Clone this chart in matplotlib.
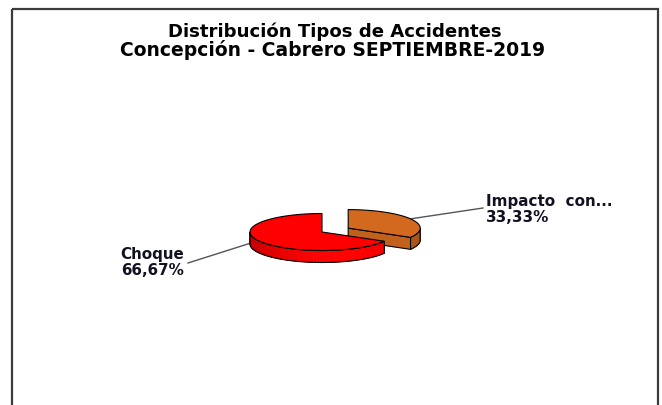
import numpy as np
import matplotlib
matplotlib.use("Agg")
import matplotlib.pyplot as plt
from matplotlib.patches import Polygon, Rectangle
from matplotlib.colors import to_rgb

# ---- data ----
title_lines = ["Distribución Tipos de Accidentes", "Concepción - Cabrero SEPTIEMBRE-2019"]
categories = ["Impacto  con...", "Choque"]
values = [33.33, 66.67]
top_colors = ["#D2691E", "#FF0000"]
side_colors = ["#B85D1C", "#FF0000"]
explode = [0.42, 0.0]

# ---- figure in pixel coordinates ----
W, H = 662, 405
fig = plt.figure(figsize=(W / 100, H / 100), dpi=100)
ax = fig.add_axes([0, 0, 1, 1])
ax.set_xlim(0, W)
ax.set_ylim(H, 0)
ax.axis("off")

# frame
ax.add_patch(Rectangle((12, 9), 646, 420, fill=False, ec="#3c3c3c", lw=1.6, zorder=1))

# titles
ax.text(335, 37, title_lines[0], ha="center", va="baseline", fontsize=13.1,
        fontweight="bold", family="DejaVu Sans", color="black")
ax.text(333, 56, title_lines[1], ha="center", va="baseline", fontsize=13.5,
        fontweight="bold", family="DejaVu Sans", color="black")

# pie geometry (layout)
cx, cy, rx, ry, depth = 322, 232, 72, 18.5, 12
start_angle = 90.0


def pt(c, a, dz=0.0):
    r = np.radians(a)
    return (c[0] + rx * np.cos(r), c[1] - ry * np.sin(r) + dz)


def shade(col, a):
    base = np.array(to_rgb(col))
    f = 0.78 + 0.22 * max(0.0, np.cos(np.radians(a + 70)))
    return tuple(np.clip(base * f, 0, 1))


total = float(sum(values))
slices = []
cum = 0.0
for i, v in enumerate(values):
    a0 = start_angle - 360.0 * cum / total
    cum += v
    a1 = start_angle - 360.0 * cum / total
    mid = (a0 + a1) / 2
    c = (cx + explode[i] * rx * np.cos(np.radians(mid)),
         cy - explode[i] * ry * np.sin(np.radians(mid)))
    slices.append(dict(i=i, a0=a0, a1=a1, mid=mid, c=c))

# back to front
order = sorted(slices, key=lambda s: np.sin(np.radians(s["mid"])), reverse=True)

z = 2
for s in order:
    i, a0, a1, c = s["i"], s["a0"], s["a1"], s["c"]
    # radial walls
    walls = []
    if np.sin(np.radians(a1 - 90)) < -1e-6:
        walls.append(a1)
    if np.sin(np.radians(a0 + 90)) < -1e-6:
        walls.append(a0)
    for wa in walls:
        p = pt(c, wa)
        poly = [c, p, (p[0], p[1] + depth), (c[0], c[1] + depth)]
        wc = tuple(np.clip(np.array(to_rgb(top_colors[i])) * 0.92, 0, 1))
        ax.add_patch(Polygon(poly, closed=True, fc=wc, ec="black", lw=0.8, zorder=z))
        z += 1
    # outer side (front-facing part)
    angs = np.linspace(a1, a0, 400)
    front = np.sin(np.radians(angs)) <= 1e-9
    runs = []
    cur = []
    for a, f in zip(angs, front):
        if f:
            cur.append(a)
        elif cur:
            runs.append(cur)
            cur = []
    if cur:
        runs.append(cur)
    for run in runs:
        run = np.array(run)
        for k in range(len(run) - 1):
            q = [pt(c, run[k]), pt(c, run[k + 1]), pt(c, run[k + 1], depth), pt(c, run[k], depth)]
            col = shade(side_colors[i], (run[k] + run[k + 1]) / 2)
            ax.add_patch(Polygon(q, closed=True, fc=col, ec=col, lw=0.4, zorder=z))
        outline = [pt(c, a) for a in run] + [pt(c, a, depth) for a in run[::-1]]
        z += 1
        ax.add_patch(Polygon(outline, closed=True, fill=False, ec="black", lw=0.8, zorder=z))
        z += 1
    # top face
    arc = [pt(c, a) for a in np.linspace(a1, a0, 200)]
    ax.add_patch(Polygon([c] + arc, closed=True, fc=top_colors[i], ec="black", lw=0.8, zorder=z))
    z += 1

# labels and leader lines (layout positions)
label_layout = {0: dict(x=486, y=206, ha="left", lead_end=(483, 208), lead_ang=30),
                1: dict(x=184, y=259, ha="right", lead_end=(188, 263), lead_ang=185)}
for s in slices:
    i = s["i"]
    L = label_layout[i]
    pct = 100.0 * values[i] / total
    ptxt = f"{pct:.2f}".replace(".", ",") + "%"
    ax.text(L["x"], L["y"], categories[i], ha=L["ha"], va="baseline", fontsize=10.9,
            fontweight="bold", family="DejaVu Sans", color="#111122", zorder=z)
    ax.text(L["x"], L["y"] + 16, ptxt, ha=L["ha"], va="baseline", fontsize=10.9,
            fontweight="bold", family="DejaVu Sans", color="#111122", zorder=z)
    p = pt(s["c"], L["lead_ang"], depth * 0.8 if i == 1 else 0)
    ax.plot([p[0], L["lead_end"][0]], [p[1], L["lead_end"][1]], color="#555555", lw=1.0, zorder=1.5)

fig.savefig("out.png", dpi=100)
